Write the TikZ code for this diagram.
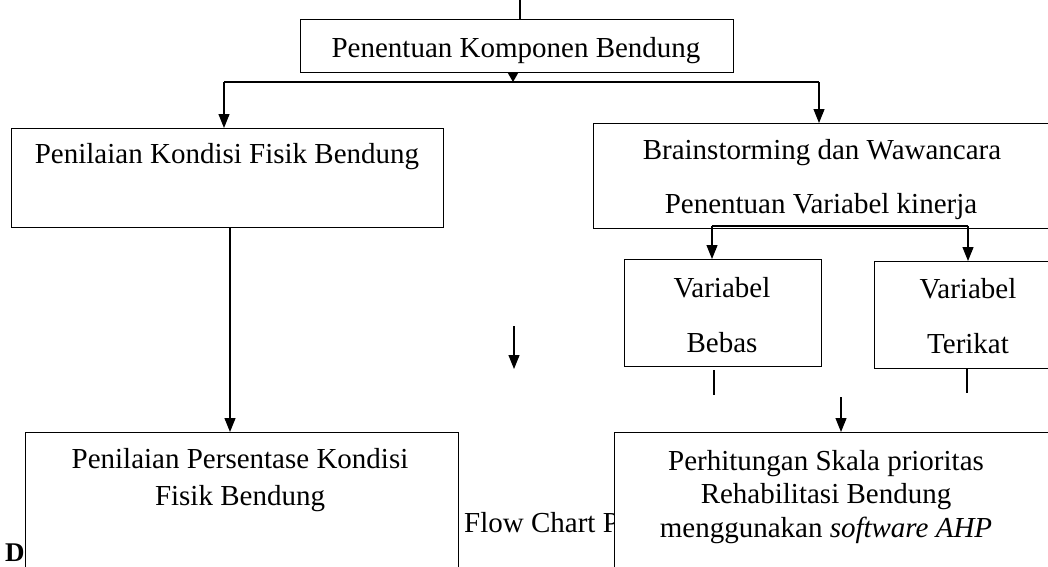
\documentclass[tikz,border=0pt]{standalone}
\usepackage{fontspec}
\setmainfont{Liberation Serif}
\usetikzlibrary{arrows.meta}
\begin{document}
\begin{tikzpicture}[x=1pt,y=-1pt,
  box/.style={draw,line width=1.3pt,fill=white,inner sep=0pt,anchor=north west},
  txt/.style={font=\fontsize{29}{35}\selectfont,inner sep=0pt,anchor=base,align=center},
  ln/.style={line width=1.2pt},
  arr/.style={line width=1.2pt,-{Triangle[width=11pt,length=14pt]}},
  arrs/.style={line width=1.2pt,-{Triangle[width=10pt,length=9pt]}},
]
\useasboundingbox (0,0) rectangle (1048,566);
\clip (0,0) rectangle (1048,566);

% background texts partly hidden by boxes
\node[font=\fontsize{27}{32}\selectfont\bfseries,inner sep=0pt,anchor=base west] (dtext) at (5,561) {D};
\node[font=\fontsize{29}{34}\selectfont,inner sep=0pt,anchor=base west] (flow) at (464,532) {Flow Chart P};

% boxes
\node[box,minimum width=433pt,minimum height=53pt] (top) at (300,19) {};
\node[box,minimum width=432pt,minimum height=99pt] (left) at (11,128) {};
\node[box,minimum width=470pt,minimum height=105pt] (right) at (593,123) {};
\node[box,minimum width=197pt,minimum height=107pt] (bebas) at (624,259) {};
\node[box,minimum width=200pt,minimum height=107pt] (terikat) at (874,261) {};
\node[box,minimum width=433pt,minimum height=150pt] (bl) at (25,432) {};
\node[box,minimum width=450pt,minimum height=150pt] (br) at (614,432) {};

% texts (anchor base = baseline of the last line)
\node[txt] (topT) at (516,57) {Penentuan Komponen Bendung};
\node[txt] (leftT) at (227,163) {Penilaian Kondisi Fisik Bendung};
\node[txt] (rightT1) at (822,159) {Brainstorming dan Wawancara};
\node[txt] (rightT2) at (821,213) {Penentuan Variabel kinerja};
\node[txt] (bebasT) at (722,352) {Variabel\\[20pt]Bebas};
\node[txt] (terikatT) at (968,353) {Variabel\\[20pt]Terikat};
\node[txt,font=\fontsize{29}{37}\selectfont] (blT) at (240,505) {Penilaian Persentase Kondisi\\Fisik Bendung};
\node[txt,font=\fontsize{29}{33.5}\selectfont] (brT) at (826,537) {Perhitungan Skala prioritas\\Rehabilitasi Bendung\\menggunakan \textit{software AHP}};

% connectors
\coordinate (in0) at (520,0);
\draw[ln] (in0) -- (in0 |- top.north);
\coordinate (bus) at (513,82);
\coordinate (busL) at (224,82);
\coordinate (busR) at (819,82);
\draw[arrs] (bus |- top.south) -- (bus);
\draw[ln] (busL) -- (busR);
\draw[arr] (busL) -- (busL |- left.north);
\draw[arr] (busR) -- (busR |- right.north);

\coordinate (lv) at (230,227);
\draw[arr] (lv) -- (lv |- bl.north);

\coordinate (vL) at (712,226);
\coordinate (vR) at (968,226);
\draw[ln] (vL) -- (vR);
\draw[arr] (vL) -- (vL |- bebas.north);
\draw[arr] (vR) -- (vR |- terikat.north);

\coordinate (mid1) at (514,326);
\coordinate (mid2) at (514,369);
\draw[arr] (mid1) -- (mid2);

\coordinate (sb) at (714,370);
\draw[ln] (sb) -- ++(0,25);
\coordinate (st) at (967,369);
\draw[ln] (st) -- ++(0,24);

\coordinate (a3) at (841,397);
\draw[arr] (a3) -- (a3 |- br.north);
\end{tikzpicture}
\end{document}
